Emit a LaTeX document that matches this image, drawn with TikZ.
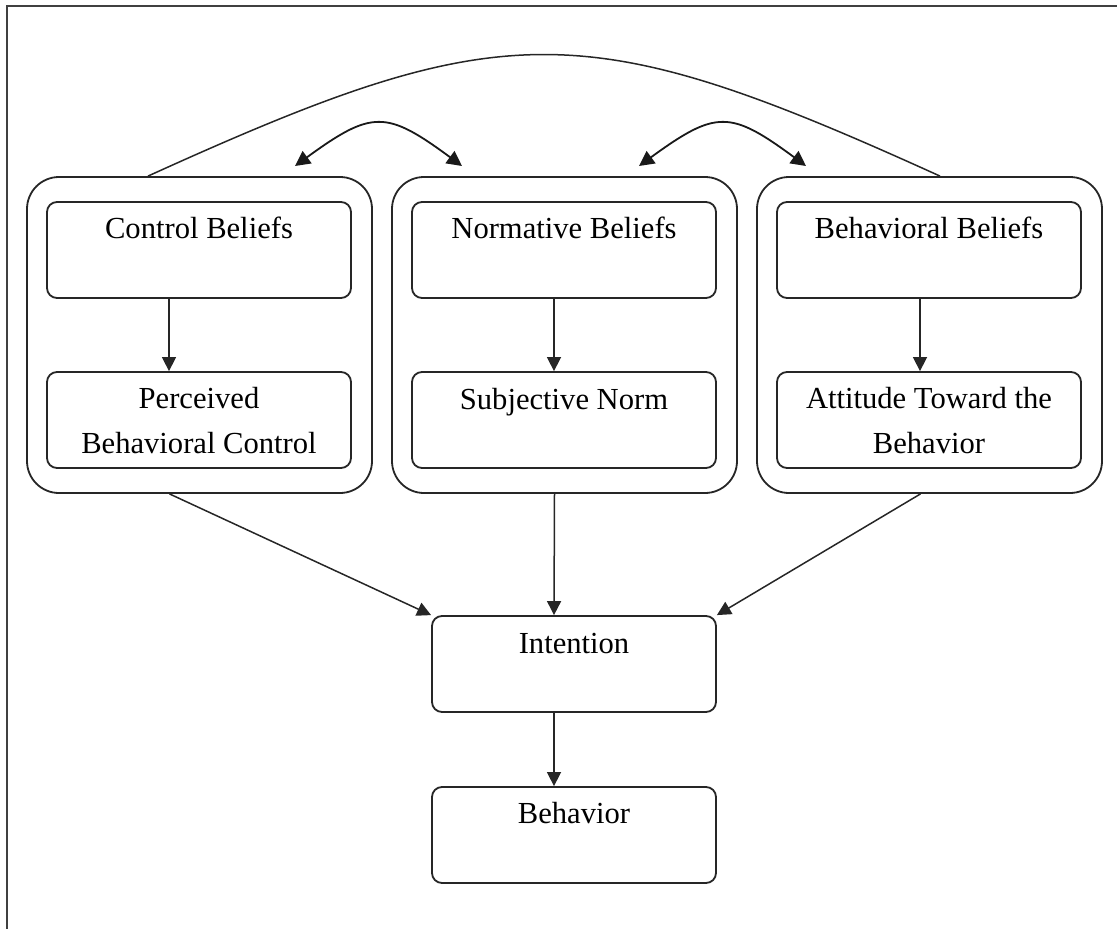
\documentclass[tikz,border=0pt]{standalone}
\usepackage{fontspec}
\setmainfont{Liberation Serif}
\usetikzlibrary{arrows.meta}
\tikzset{
  outerbox/.style={draw=black!85, line width=1.8pt, rounded corners=32pt, minimum width=345pt, minimum height=316pt, inner sep=0pt},
  innerbox/.style={draw=black!85, line width=1.8pt, rounded corners=10pt, minimum width=304pt, minimum height=96pt, inner sep=0pt},
  lowbox/.style={draw=black!85, line width=1.8pt, rounded corners=10pt, minimum width=284pt, minimum height=96pt, inner sep=0pt},
  lbl/.style={anchor=base, inner sep=0pt, align=center, font=\fontsize{30.6}{45}\selectfont},
  arr/.style={draw=black!85, line width=1.5pt, -{Triangle[length=14pt,width=14pt]}},
  darr/.style={draw=black!90, line width=1.8pt, {Triangle[length=15pt,width=15pt]}-{Triangle[length=15pt,width=15pt]}},
  link/.style={draw=black!85, line width=1.5pt},
  frame/.style={draw=black!75, line width=2pt}
}
\begin{document}
\begin{tikzpicture}[x=1pt,y=-1pt]
\useasboundingbox (0,0) rectangle (1117,929);
\draw[frame] (7,929) -- (7,5.7) -- (1117,5.7);

% outer boxes
\node[outerbox] (o1) at (199.5,335) {};
\node[outerbox] (o2) at (564.5,335) {};
\node[outerbox] (o3) at (929.5,335) {};

% inner boxes
\node[innerbox] (cb) at (199,250) {};
\node[innerbox] (pbc) at (199,420) {};
\node[innerbox] (nb) at (564,250) {};
\node[innerbox] (sn) at (564,420) {};
\node[innerbox] (bb) at (929,250) {};
\node[innerbox] (att) at (929,420) {};
\node[lowbox] (int) at (574,664) {};
\node[lowbox] (beh) at (574,835) {};

% labels (base anchor = last line's baseline)
\node[lbl] (cbt) at (199,238) {Control Beliefs};
\node[lbl] (pbct) at (199,453) {Perceived\\Behavioral Control};
\node[lbl] (nbt) at (564,238) {Normative Beliefs};
\node[lbl] (snt) at (564,409) {Subjective Norm};
\node[lbl] (bbt) at (929,238) {Behavioral Beliefs};
\node[lbl] (attt) at (929,453) {Attitude Toward the\\Behavior};
\node[lbl] (intt) at (574,653) {Intention};
\node[lbl] (beht) at (574,823) {Behavior};

% inner arrows
\draw[arr] ([xshift=-30pt]cb.south) -- ([xshift=-30pt]pbc.north);
\draw[arr] ([xshift=-10pt]nb.south) -- ([xshift=-10pt]sn.north);
\draw[arr] ([xshift=-9pt]bb.south) -- ([xshift=-9pt]att.north);

% to intention
\draw[arr] ([xshift=-30pt]o1.south) -- (int.north west);
\draw[arr] ([xshift=-10pt]o2.south) -- ([xshift=-20pt]int.north);
\draw[arr] ([xshift=-9pt]o3.south) -- (int.north east);
\draw[arr] ([xshift=-20pt]int.south) -- ([xshift=-20pt]beh.north);

% big arc
\draw[link] ([xshift=-51.5pt]o1.north) .. controls (505,14) and (583,14) .. ([xshift=10.5pt]o3.north);

% double arrows
\coordinate (d1a) at (295,166);
\coordinate (d1b) at (462,166);
\coordinate (d2a) at (639,166);
\coordinate (d2b) at (806,166);
\draw[darr] (d1a) .. controls (372,110) and (386,110) .. (d1b);
\draw[darr] (d2a) .. controls (716,110) and (730,110) .. (d2b);
\end{tikzpicture}
\end{document}
